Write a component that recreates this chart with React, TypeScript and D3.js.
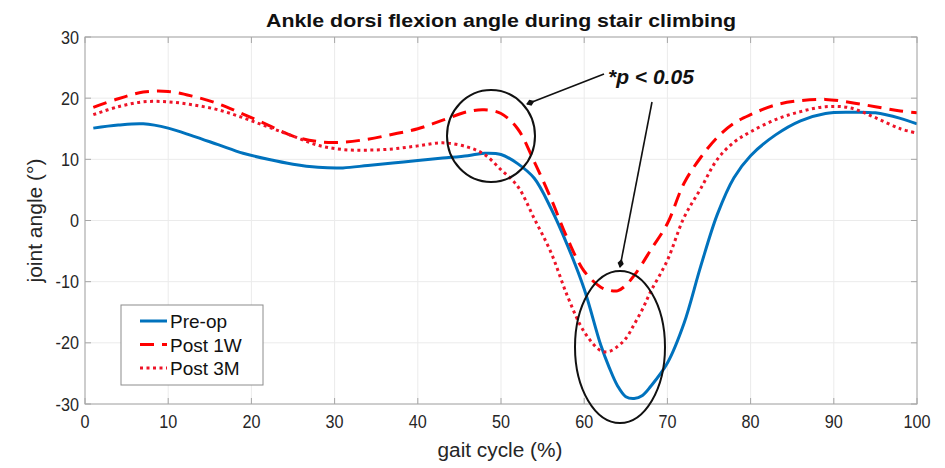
import React from "react";
import * as d3 from "d3";

const gait = [1,4,7,10,13,16,19,22,25,28,31,34,37,40,43,46,48,50,52,54,56,58,60,62,63,64,65,66,67,68,70,72,74,76,78,80,83,86,89,92,95,98,100];
const preOp = [15.1,15.6,15.8,15.1,13.8,12.4,11.0,10.0,9.2,8.7,8.6,9.0,9.4,9.8,10.2,10.6,11.0,10.8,9.3,6.9,2.0,-4.1,-11.2,-20.4,-24.0,-27.0,-28.8,-29.1,-28.6,-27.1,-23.3,-16.8,-7.5,1.0,7.0,10.6,14.0,16.3,17.5,17.7,17.6,16.7,15.8];
const post1W = [18.5,19.9,21.0,21.1,20.3,19.1,17.4,15.6,13.8,12.9,12.8,13.3,14.1,15.0,16.4,17.8,18.1,17.5,15.0,9.6,3.6,-3.0,-8.3,-10.9,-11.4,-11.5,-10.6,-9.0,-7.0,-4.8,-0.5,6.1,10.3,13.6,15.9,17.3,18.9,19.6,19.8,19.3,18.6,17.9,17.6];
const post3M = [17.3,18.6,19.4,19.4,18.9,18.1,16.8,15.3,13.8,12.3,11.6,11.5,11.7,12.2,12.7,12.0,10.8,8.3,5.6,0.3,-5.2,-12.4,-18.2,-21.3,-21.4,-20.6,-19.3,-17.0,-14.5,-11.6,-6.5,0.5,5.2,10.0,12.8,14.5,16.5,17.8,18.6,18.4,16.8,15.0,14.3];

const xTicks = [0,10,20,30,40,50,60,70,80,90,100];
const yTicks = [-30,-20,-10,0,10,20,30];
const seriesNames = ["Pre-op","Post 1W","Post 3M"];

const W = 945, H = 468;
const L = 85, R = 917, T = 37, B = 404;

export default function App() {
  const x = d3.scaleLinear().domain([0,100]).range([L,R]);
  const y = d3.scaleLinear().domain([-30,30]).range([B,T]);
  const line = (vals: number[]) =>
    d3.line<number>().x((_, i) => x(gait[i])).y(d => y(d)).curve(d3.curveCatmullRom.alpha(0.5))(vals) || "";

  const series = [
    { name: seriesNames[0], vals: preOp, color: "#0072BD", dash: undefined as string | undefined },
    { name: seriesNames[1], vals: post1W, color: "#FF0000", dash: "14,8" },
    { name: seriesNames[2], vals: post3M, color: "#EE1428", dash: "3,3.5" },
  ];

  const font = "'Liberation Sans', Arial, sans-serif";
  const axisColor = "#a6a6a6";
  const textColor = "#262626";

  return (
    <svg width={W} height={H} style={{ position: "absolute", left: 0, top: 0, display: "block", background: "#fff" }} fontFamily={font}>
      <defs>
        <clipPath id="plotclip"><rect x={L} y={T} width={R - L} height={B - T} /></clipPath>
        <marker id="ah" viewBox="0 0 10 10" refX="9" refY="5" markerWidth="9" markerHeight="9" orient="auto-start-reverse" markerUnits="userSpaceOnUse">
          <path d="M0,5 L5,1.5 L10,5 L5,8.5 Z" fill="#111" />
        </marker>
      </defs>
      <rect x={L} y={T} width={R - L} height={B - T} fill="#fff" />
      {xTicks.map(t => <line key={"gx" + t} x1={x(t)} x2={x(t)} y1={T} y2={B} stroke="#ebebeb" strokeWidth={1} />)}
      {yTicks.map(t => <line key={"gy" + t} x1={L} x2={R} y1={y(t)} y2={y(t)} stroke="#ebebeb" strokeWidth={1} />)}
      <g clipPath="url(#plotclip)">
        {series.map(s => (
          <path key={s.name} d={line(s.vals)} fill="none" stroke={s.color} strokeWidth={3} strokeDasharray={s.dash} strokeLinejoin="round" />
        ))}
      </g>
      <rect x={L} y={T} width={R - L} height={B - T} fill="none" stroke={axisColor} strokeWidth={1} />
      {xTicks.map(t => (
        <g key={"tx" + t}>
          <line x1={x(t)} x2={x(t)} y1={B} y2={B - 6} stroke={axisColor} />
          <line x1={x(t)} x2={x(t)} y1={T} y2={T + 6} stroke={axisColor} />
          <text transform={`translate(${x(t)},${B + 24}) scale(0.9,1)`} textAnchor="middle" fontSize={18} fill={textColor}>{t}</text>
        </g>
      ))}
      {yTicks.map(t => (
        <g key={"ty" + t}>
          <line x1={L} x2={L + 6} y1={y(t)} y2={y(t)} stroke={axisColor} />
          <line x1={R} x2={R - 6} y1={y(t)} y2={y(t)} stroke={axisColor} />
          <text transform={`translate(${L - 6},${y(t) + 6.5}) scale(0.9,1)`} textAnchor="end" fontSize={18} fill={textColor}>{t}</text>
        </g>
      ))}
      <text x={(L + R) / 2} y={27} textAnchor="middle" fontSize={19} fontWeight="bold" fill="#111" textLength={470} lengthAdjust="spacingAndGlyphs">Ankle dorsi flexion angle during stair climbing</text>
      <text x={500} y={457} textAnchor="middle" fontSize={20} fill={textColor} textLength={125} lengthAdjust="spacingAndGlyphs">gait cycle (%)</text>
      <text transform={`translate(42,${y(0)}) rotate(-90)`} textAnchor="middle" fontSize={20} fill={textColor} textLength={124} lengthAdjust="spacingAndGlyphs">joint angle (°)</text>
      <rect x={121} y={305} width={142} height={80} fill="#fff" stroke="#8c8c8c" strokeWidth={1} />
      {series.map((s, i) => (
        <g key={"lg" + s.name}>
          <line x1={140} x2={167} y1={321 + i * 23.5} y2={321 + i * 23.5} stroke={s.color} strokeWidth={3} strokeDasharray={s.dash} />
          <text x={170} y={321 + i * 23.5 + 7} fontSize={19} fill="#111">{s.name}</text>
        </g>
      ))}
      <ellipse cx={491} cy={136} rx={44} ry={46} fill="none" stroke="#111" strokeWidth={2} />
      <ellipse cx={620} cy={347} rx={45} ry={76} fill="none" stroke="#111" strokeWidth={2} />
      <line x1={604} y1={74} x2={527} y2={104} stroke="#111" strokeWidth={1.6} markerEnd="url(#ah)" />
      <line x1={652} y1={102} x2={620} y2={267} stroke="#111" strokeWidth={1.6} markerEnd="url(#ah)" />
      <text x={608} y={84} fontSize={21} fontWeight="bold" fontStyle="italic" fill="#111">*p &lt; 0.05</text>
    </svg>
  );
}
